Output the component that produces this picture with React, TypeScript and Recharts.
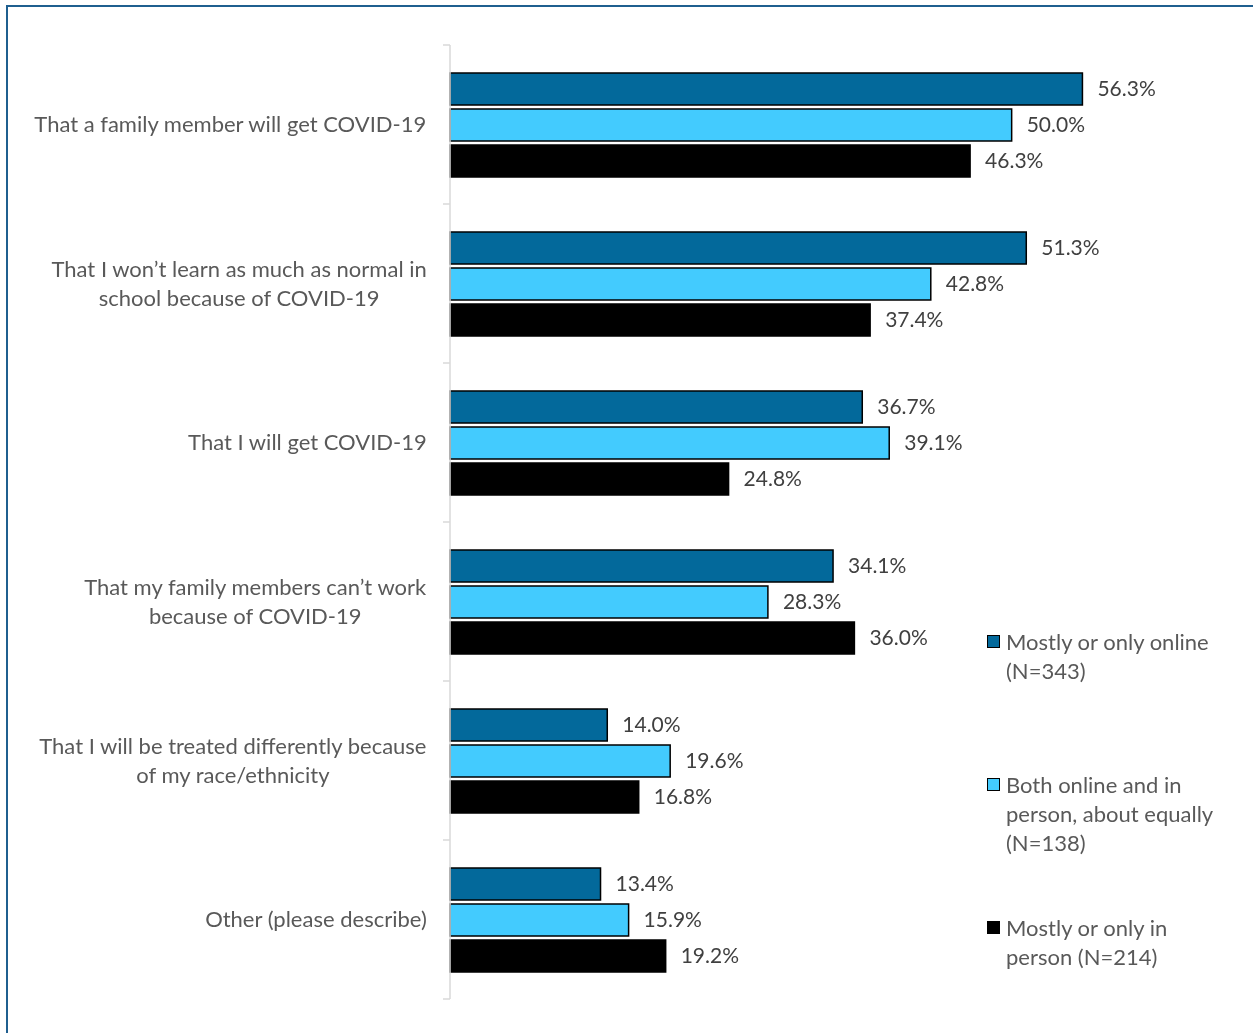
import React from "react";
import { BarChart, Bar, XAxis, YAxis, LabelList, Legend } from "recharts";

const categories = [
  ["That a family member will get COVID-19"],
  ["That I won’t learn as much as normal in", "school because of COVID-19"],
  ["That I will get COVID-19"],
  ["That my family members can’t work", "because of COVID-19"],
  ["That I will be treated differently because", "of my race/ethnicity"],
  ["Other (please describe)"],
];
const online = [56.3, 51.3, 36.7, 34.1, 14.0, 13.4];
const both = [50.0, 42.8, 39.1, 28.3, 19.6, 15.9];
const inPerson = [46.3, 37.4, 24.8, 36.0, 16.8, 19.2];

const seriesNames = [
  ["Mostly or only online", "(N=343)"],
  ["Both online and in", "person, about equally", "(N=138)"],
  ["Mostly or only in", "person (N=214)"],
];
const COLORS = ["#03699b", "#43cbfe", "#000000"];

const FONT = "Lato, 'Open Sans', sans-serif";
const FS = 22;
const VAL_FS = 21;
const LINE_H = 29;

const data = categories.map((lines, i) => ({
  name: lines.join("\n"),
  online: online[i],
  both: both[i],
  inPerson: inPerson[i],
}));

const CHART_W = 1245;
const CHART_H = 1010;
const MARGIN = { top: 37, right: 129, bottom: 19, left: 0 };
const PLOT_H = CHART_H - MARGIN.top - MARGIN.bottom;
const STEP = PLOT_H / categories.length;

let ctx: CanvasRenderingContext2D | null = null;
function textWidth(s: string) {
  if (!ctx) ctx = document.createElement("canvas").getContext("2d");
  if (!ctx) return s.length * FS * 0.5;
  ctx.font = `${FS}px Lato`;
  return ctx.measureText(s).width;
}

function CategoryTick(props: any) {
  const { x, y, payload, index } = props;
  const lines: string[] = String(payload.value).split("\n");
  const right = x - 23;
  const maxW = Math.max(...lines.map(textWidth));
  const cx = right - maxW / 2;
  const y0 = y - ((lines.length - 1) * LINE_H) / 2;
  const last = index === categories.length - 1;
  return (
    <g>
      <line x1={x - 7} x2={x} y1={y - STEP / 2} y2={y - STEP / 2} stroke="#d9d9d9" strokeWidth={1.5} />
      {last && (
        <line x1={x - 7} x2={x} y1={y + STEP / 2} y2={y + STEP / 2} stroke="#d9d9d9" strokeWidth={1.5} />
      )}
      <text textAnchor="middle" fill="#595959" fontSize={FS} fontFamily={FONT}>
        {lines.map((l, i) => (
          <tspan key={i} x={cx} y={y0 + i * LINE_H} dy="0.35em">
            {l}
          </tspan>
        ))}
      </text>
    </g>
  );
}

function renderLegend() {
  return (
    <div style={{ fontFamily: FONT, fontSize: FS, color: "#595959", lineHeight: `${LINE_H}px`, textAlign: "left" }}>
      {seriesNames.map((lines, i) => (
        <div key={i} style={{ display: "flex", alignItems: "flex-start", height: 143 }}>
          <span
            style={{
              display: "inline-block",
              width: 11,
              height: 11,
              background: COLORS[i],
              border: "1.5px solid #000",
              marginTop: 8,
              marginRight: 6,
              flexShrink: 0,
            }}
          />
          <div>
            {lines.map((l, j) => (
              <div key={j}>{l}</div>
            ))}
          </div>
        </div>
      ))}
    </div>
  );
}

const fmt = (v: any) => `${Number(v).toFixed(1)}%`;

export default function App() {
  return (
    <div style={{ position: "relative", width: CHART_W, height: CHART_H }}>
      <div
        style={{
          position: "fixed",
          left: 6,
          top: 5,
          width: 1270,
          height: 1050,
          border: "2px solid #1f5f8f",
          pointerEvents: "none",
        }}
      />
      <BarChart
        width={CHART_W}
        height={CHART_H}
        data={data}
        layout="vertical"
        margin={MARGIN}
        barSize={32}
        barGap={4}
      >
        <XAxis type="number" domain={[0, 60]} hide />
        <YAxis
          type="category"
          dataKey="name"
          width={442}
          axisLine={{ stroke: "#d9d9d9", strokeWidth: 1.5 }}
          tickLine={false}
          tickSize={0}
          tickMargin={0}
          tick={<CategoryTick />}
          interval={0}
        />
        <Legend
          content={renderLegend}
          layout="horizontal"
          verticalAlign="middle"
          align="center"
          wrapperStyle={{ position: "absolute", left: 979, top: 619, width: 260 }}
        />
        <Bar dataKey="online" fill={COLORS[0]} stroke="#000" strokeWidth={1.5} isAnimationActive={false}>
          <LabelList dataKey="online" position="right" offset={15} formatter={fmt} fill="#404040" fontSize={VAL_FS} fontFamily={FONT} />
        </Bar>
        <Bar dataKey="both" fill={COLORS[1]} stroke="#000" strokeWidth={1.5} isAnimationActive={false}>
          <LabelList dataKey="both" position="right" offset={15} formatter={fmt} fill="#404040" fontSize={VAL_FS} fontFamily={FONT} />
        </Bar>
        <Bar dataKey="inPerson" fill={COLORS[2]} stroke="#000" strokeWidth={1.5} isAnimationActive={false}>
          <LabelList dataKey="inPerson" position="right" offset={15} formatter={fmt} fill="#404040" fontSize={VAL_FS} fontFamily={FONT} />
        </Bar>
      </BarChart>
    </div>
  );
}
